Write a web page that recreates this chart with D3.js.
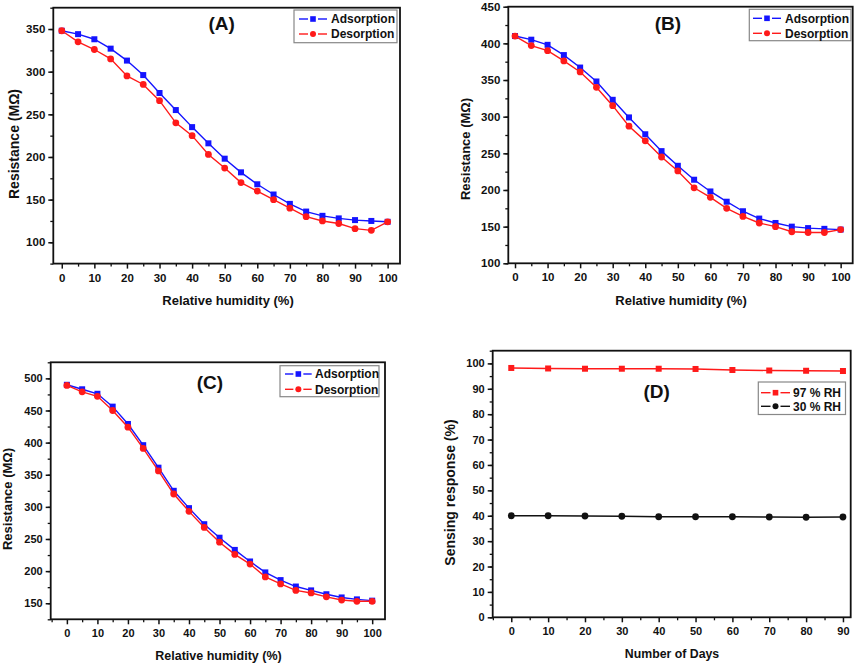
<!DOCTYPE html>
<html><head><meta charset="utf-8">
<script src="https://cdn.jsdelivr.net/npm/d3@7"></script>
<style>
html,body{margin:0;padding:0;background:#fff;}
svg text{font-family:"Liberation Sans",Arial,Helvetica,sans-serif;font-weight:bold;fill:#111;}
</style></head>
<body>
<svg id="c" width="856" height="664"></svg>
<script>
// ---------- data ----------
const rhLevels = [0,5,10,15,20,25,30,35,40,45,50,55,60,65,70,75,80,85,90,95,100];
const adsorptionA = [348,344,338,327,313,296,275,255,235,216,198,182,168,156,145,136,131,128,126,125,124];
const desorptionA = [348,335,326,315,295,285,266,240,225,203,187,170,160,150,140,130,125,122,116,114,124];
const adsorptionB = [410,405,398,384,367,348,323,299,276,253,233,214,198,184,171,161,155,150,148,147,146];
const desorptionB = [410,397,390,376,361,340,315,287,267,245,226,203,190,175,164,155,150,143,142,142,146];
const adsorptionC = [490,483,476,456,429,396,361,325,298,273,252,233,215,198,186,176,170,164,159,156,154];
const desorptionC = [489,479,472,450,424,391,356,320,293,268,245,226,211,191,180,170,166,160,155,153,153];
const days = [0,10,20,30,40,50,60,70,80,90];
const response97 = [98.2,98.0,97.9,97.9,97.9,97.8,97.4,97.2,97.1,97.0];
const response30 = [40.0,40.0,39.9,39.8,39.6,39.6,39.6,39.5,39.4,39.5];
const rhTicks = [0,10,20,30,40,50,60,70,80,90,100];
const dayTicks = [0,10,20,30,40,50,60,70,80,90];
const seriesNamesRH = ["Adsorption","Desorption"];
const seriesNamesDays = ["97 % RH","30 % RH"];

const svg = d3.select("#c");

function panel(cfg){
  const g = svg.append("g");
  const x = d3.scaleLinear().domain(cfg.xDom).range([cfg.x0, cfg.x1]);
  const y = d3.scaleLinear().domain(cfg.yDom).range([cfg.y1, cfg.y0]);

  const xMinor = d3.range(cfg.xMinorStart, cfg.xDom[1], cfg.xMinorStep).filter(v=>v>=cfg.xDom[0]);
  const yMinor = d3.range(cfg.yDom[0], cfg.yDom[1]+0.001, cfg.yMinorStep);
  g.append("g").attr("transform",`translate(0,${cfg.y1})`)
    .call(d3.axisBottom(x).tickValues(xMinor).tickSize(3).tickFormat(""))
    .call(s=>s.select(".domain").remove()).selectAll("line").attr("stroke","#111").attr("stroke-width",1.3);
  g.append("g").attr("transform",`translate(${cfg.x0},0)`)
    .call(d3.axisLeft(y).tickValues(yMinor).tickSize(3).tickFormat(""))
    .call(s=>s.select(".domain").remove()).selectAll("line").attr("stroke","#111").attr("stroke-width",1.3);

  const xa = g.append("g").attr("transform",`translate(0,${cfg.y1})`)
    .call(d3.axisBottom(x).tickValues(cfg.xTicks).tickSize(5).tickPadding(5).tickFormat(d3.format("d")));
  xa.select(".domain").remove();
  xa.selectAll("line").attr("stroke","#111").attr("stroke-width",1.5);
  xa.selectAll("text").style("font-size",cfg.tickFont+"px").attr("fill","#111");
  const ya = g.append("g").attr("transform",`translate(${cfg.x0},0)`)
    .call(d3.axisLeft(y).tickValues(cfg.yTicks).tickSize(5).tickPadding(3).tickFormat(d3.format("d")));
  ya.select(".domain").remove();
  ya.selectAll("line").attr("stroke","#111").attr("stroke-width",1.5);
  ya.selectAll("text").style("font-size",cfg.tickFont+"px").attr("fill","#111");

  g.append("rect").attr("x",cfg.x0).attr("y",cfg.y0)
    .attr("width",cfg.x1-cfg.x0).attr("height",cfg.y1-cfg.y0)
    .attr("fill","none").attr("stroke","#111").attr("stroke-width",1.8);

  cfg.series.forEach(s=>{
    const pts = cfg.xs.map((v,i)=>[v,s.values[i]]);
    g.append("path").datum(pts)
      .attr("d", d3.line().x(d=>x(d[0])).y(d=>y(d[1])))
      .attr("fill","none").attr("stroke",s.color).attr("stroke-width",1.4);
    if(s.marker==="square"){
      g.selectAll(null).data(pts).enter().append("rect")
        .attr("x",d=>x(d[0])-3).attr("y",d=>y(d[1])-3)
        .attr("width",6).attr("height",6).attr("fill",s.color);
    } else {
      g.selectAll(null).data(pts).enter().append("circle")
        .attr("cx",d=>x(d[0])).attr("cy",d=>y(d[1])).attr("r",3.4).attr("fill",s.color);
    }
  });

  const L = cfg.legend;
  g.append("rect").attr("x",L.x0).attr("y",L.y0).attr("width",L.x1-L.x0).attr("height",L.y1-L.y0)
    .attr("fill","#fff").attr("stroke","#888").attr("stroke-width",1.2);
  cfg.series.forEach((s,i)=>{
    const ry = L.rows[i];
    const mx = (L.lx0+L.lx1)/2;
    g.append("line").attr("x1",L.lx0).attr("x2",mx-5).attr("y1",ry).attr("y2",ry)
      .attr("stroke",s.color).attr("stroke-width",1.4);
    g.append("line").attr("x1",mx+5).attr("x2",L.lx1).attr("y1",ry).attr("y2",ry)
      .attr("stroke",s.color).attr("stroke-width",1.4);
    if(s.marker==="square") g.append("rect").attr("x",mx-2.8).attr("y",ry-2.8).attr("width",5.6).attr("height",5.6).attr("fill",s.color);
    else g.append("circle").attr("cx",mx).attr("cy",ry).attr("r",3).attr("fill",s.color);
    g.append("text").attr("x",L.tx).attr("y",ry).attr("dy","0.36em")
      .style("font-size",L.font+"px").text(s.name);
  });

  g.append("text").attr("x",cfg.label.x).attr("y",cfg.label.y).attr("dy","0.36em")
    .attr("text-anchor","middle").style("font-size","19px").text(cfg.label.text);
  g.append("text").attr("x",cfg.xTitle.x).attr("y",cfg.xTitle.y).attr("dy","0.36em")
    .attr("text-anchor","middle").style("font-size",cfg.xTitle.font+"px").text(cfg.xTitle.text);
  g.append("text").attr("transform",`translate(${cfg.yTitle.x},${cfg.yTitle.y}) rotate(-90)`)
    .attr("dy","0.36em").attr("text-anchor","middle").style("font-size",cfg.yTitle.font+"px").text(cfg.yTitle.text);
}

panel({
  x0:53.3, x1:400, y0:7.7, y1:263.6, xDom:[-2.6,103.8], yDom:[75,375],
  xTicks:rhTicks, yTicks:[100,150,200,250,300,350], xMinorStart:5, xMinorStep:10, yMinorStep:25, tickFont:11.5,
  xs:rhLevels,
  series:[{name:seriesNamesRH[0],values:adsorptionA,color:"#1414ff",marker:"square"},
          {name:seriesNamesRH[1],values:desorptionA,color:"#ff1a1a",marker:"circle"}],
  legend:{x0:294,x1:397,y0:10,y1:42.7,rows:[19,34],lx0:299,lx1:327,tx:331,font:12},
  label:{x:221.7,y:23,text:"(A)"},
  xTitle:{x:228,y:300,font:13,text:"Relative humidity (%)"},
  yTitle:{x:14,y:144,font:14,text:"Resistance (MΩ)"}
});
panel({
  x0:508.3, x1:852.7, y0:6.7, y1:263.3, xDom:[-2.06,103.7], yDom:[100,450],
  xTicks:rhTicks, yTicks:[100,150,200,250,300,350,400,450], xMinorStart:5, xMinorStep:10, yMinorStep:25, tickFont:11.5,
  xs:rhLevels,
  series:[{name:seriesNamesRH[0],values:adsorptionB,color:"#1414ff",marker:"square"},
          {name:seriesNamesRH[1],values:desorptionB,color:"#ff1a1a",marker:"circle"}],
  legend:{x0:749.3,x1:851,y0:9.3,y1:40.7,rows:[18.3,33.3],lx0:753,lx1:781,tx:785,font:12},
  label:{x:668,y:23,text:"(B)"},
  xTitle:{x:681,y:300,font:13,text:"Relative humidity (%)"},
  yTitle:{x:465,y:149,font:13,text:"Resistance (MΩ)"}
});
panel({
  x0:50.7, x1:385, y0:362.3, y1:619.3, xDom:[-5.3,104.2], yDom:[125,525],
  xTicks:rhTicks, yTicks:[150,200,250,300,350,400,450,500], xMinorStart:-5, xMinorStep:10, yMinorStep:25, tickFont:11,
  xs:rhLevels,
  series:[{name:seriesNamesRH[0],values:adsorptionC,color:"#1414ff",marker:"square"},
          {name:seriesNamesRH[1],values:desorptionC,color:"#ff1a1a",marker:"circle"}],
  legend:{x0:280,x1:379,y0:365.7,y1:396.7,rows:[374,389.3],lx0:285,lx1:311.7,tx:315,font:12},
  label:{x:210,y:381.7,text:"(C)"},
  xTitle:{x:218.5,y:655,font:12.5,text:"Relative humidity (%)"},
  yTitle:{x:7,y:499,font:13,text:"Resistance (MΩ)"}
});
panel({
  x0:492.7, x1:850.7, y0:350.7, y1:617.3, xDom:[-5.04,92.1], yDom:[0,105],
  xTicks:dayTicks, yTicks:[0,10,20,30,40,50,60,70,80,90,100], xMinorStart:-5, xMinorStep:10, yMinorStep:5, tickFont:11,
  xs:days,
  series:[{name:seriesNamesDays[0],values:response97,color:"#ff1a1a",marker:"square"},
          {name:seriesNamesDays[1],values:response30,color:"#111",marker:"circle"}],
  legend:{x0:758.3,x1:845.5,y0:382,y1:414.5,rows:[392.7,406.3],lx0:761,lx1:790,tx:793,font:12},
  label:{x:656.7,y:391,text:"(D)"},
  xTitle:{x:672,y:654,font:12.3,text:"Number of Days"},
  yTitle:{x:450,y:492.5,font:14,text:"Sensing response (%)"}
});
</script>
</body></html>
